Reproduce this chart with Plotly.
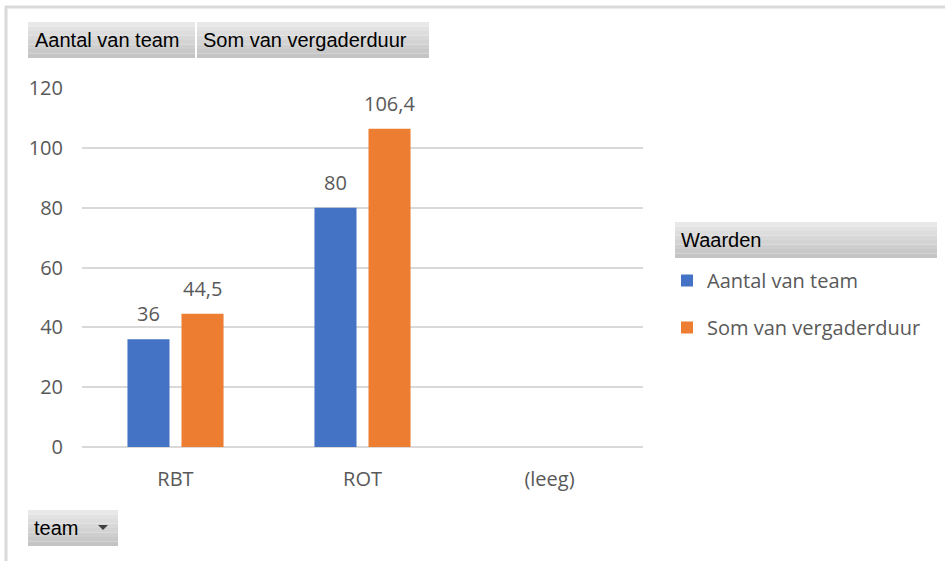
import plotly.graph_objects as go

categories = ["RBT", "ROT", "(leeg)"]
aantal_van_team = [36, 80, None]
som_van_vergaderduur = [44.5, 106.4, None]
y_ticks = [0, 20, 40, 60, 80, 100, 120]
series_names = ["Aantal van team", "Som van vergaderduur"]

BLUE = "#4472C4"
ORANGE = "#ED7D31"
TXT = "#595959"
FONT = "Open Sans"

W, H = 945, 561
L, R, T, B = 82, 643, 88, 447


def px(x):
    return (x - L) / (R - L)


def py(y):
    return (B - y) / (B - T)


def fmt(v):
    return ("%g" % v).replace(".", ",")


fig = go.Figure()
fig.add_trace(go.Bar(x=categories, y=aantal_van_team, name=series_names[0],
                     legendgroup="a",
                     marker=dict(color=BLUE, line=dict(width=0))))
fig.add_trace(go.Bar(x=categories, y=som_van_vergaderduur, name=series_names[1],
                     legendgroup="b",
                     marker=dict(color=ORANGE, line=dict(width=0))))

shapes = []
annotations = []

# value labels
for vals, xs in ((aantal_van_team, -27), (som_van_vergaderduur, 27)):
    for c, v in zip(categories, vals):
        if v is None:
            continue
        annotations.append(dict(x=c, y=v, xref="x", yref="y", text=fmt(v),
                                showarrow=False, xshift=xs, yshift=10,
                                yanchor="bottom",
                                font=dict(family=FONT, size=20, color=TXT)))


def gradient_box(x0, y0, x1, y1, steps=8):
    top = (232, 232, 232)
    bot = (196, 196, 196)
    h = (y1 - y0) / steps
    for i in range(steps):
        t = i / (steps - 1)
        c = tuple(int(top[k] + (bot[k] - top[k]) * t) for k in range(3))
        shapes.append(dict(type="rect", xref="paper", yref="paper",
                           x0=px(x0), x1=px(x1), y0=py(y0 + h * (i + 1)),
                           y1=py(y0 + h * i), line=dict(width=0),
                           fillcolor="rgb(%d,%d,%d)" % c, layer="below"))


BTN_FONT = dict(family="Liberation Sans", size=20, color="#000000")

# field buttons top
gradient_box(28, 22, 195, 58)
gradient_box(197, 22, 429, 58)
annotations.append(dict(x=px(33), y=py(40), xref="paper", yref="paper",
                        text="Aantal van team", showarrow=False, xanchor="left",
                        yanchor="middle", font=BTN_FONT))
annotations.append(dict(x=px(201), y=py(40), xref="paper", yref="paper",
                        text="Som van vergaderduur", showarrow=False,
                        xanchor="left", yanchor="middle", font=BTN_FONT))

# team button bottom
gradient_box(28, 510, 118, 546)
annotations.append(dict(x=px(32), y=py(528), xref="paper", yref="paper",
                        text="team", showarrow=False, xanchor="left",
                        yanchor="middle", font=BTN_FONT))
shapes.append(dict(type="path", xref="paper", yref="paper",
                   path="M %f %f L %f %f L %f %f Z" % (px(98), py(525), px(108), py(525), px(103), py(530)),
                   fillcolor="#404040", line=dict(width=0)))

# legend header
gradient_box(675, 222, 937, 258)
annotations.append(dict(x=px(679), y=py(240), xref="paper", yref="paper",
                        text="Waarden", showarrow=False, xanchor="left",
                        yanchor="middle", font=BTN_FONT))

# outer frame
shapes.append(dict(type="line", xref="paper", yref="paper", x0=px(5), x1=px(945),
                   y0=py(7), y1=py(7), line=dict(color="#d9d9d9", width=3)))
shapes.append(dict(type="line", xref="paper", yref="paper", x0=px(6), x1=px(6),
                   y0=py(6), y1=py(561), line=dict(color="#d9d9d9", width=3)))

fig.update_layout(
    width=W, height=H,
    margin=dict(l=L, r=W - R, t=T, b=H - B, pad=0),
    paper_bgcolor="white", plot_bgcolor="white",
    barmode="group", bargap=0.422, bargroupgap=0.222,
    separators=",.",
    font=dict(family=FONT, size=20, color=TXT),
    showlegend=True,
    legend=dict(x=px(667), y=py(261), xanchor="left", yanchor="top",
                xref="paper", yref="paper",
                font=dict(family=FONT, size=20, color=TXT),
                tracegroupgap=18, bgcolor="rgba(0,0,0,0)",
                traceorder="grouped", itemclick=False),
    shapes=shapes,
    annotations=annotations,
    xaxis=dict(type="category", categoryorder="array", categoryarray=categories,
               range=[-0.5, 2.5], showgrid=False, showline=False, ticks="",
               zeroline=False, ticklabelstandoff=18,
               tickfont=dict(family=FONT, size=20, color=TXT)),
    yaxis=dict(range=[0, 120], tickvals=y_ticks, showgrid=True,
               gridcolor="#d9d9d9", gridwidth=2, zeroline=True,
               zerolinecolor="#d9d9d9", zerolinewidth=2, showline=False,
               ticks="", ticklabelstandoff=18,
               tickfont=dict(family=FONT, size=20, color=TXT)),
)

fig.write_html("out.html", config={"displayModeBar": False},
               post_script="document.body.style.margin='0';document.body.style.overflow='hidden';")
